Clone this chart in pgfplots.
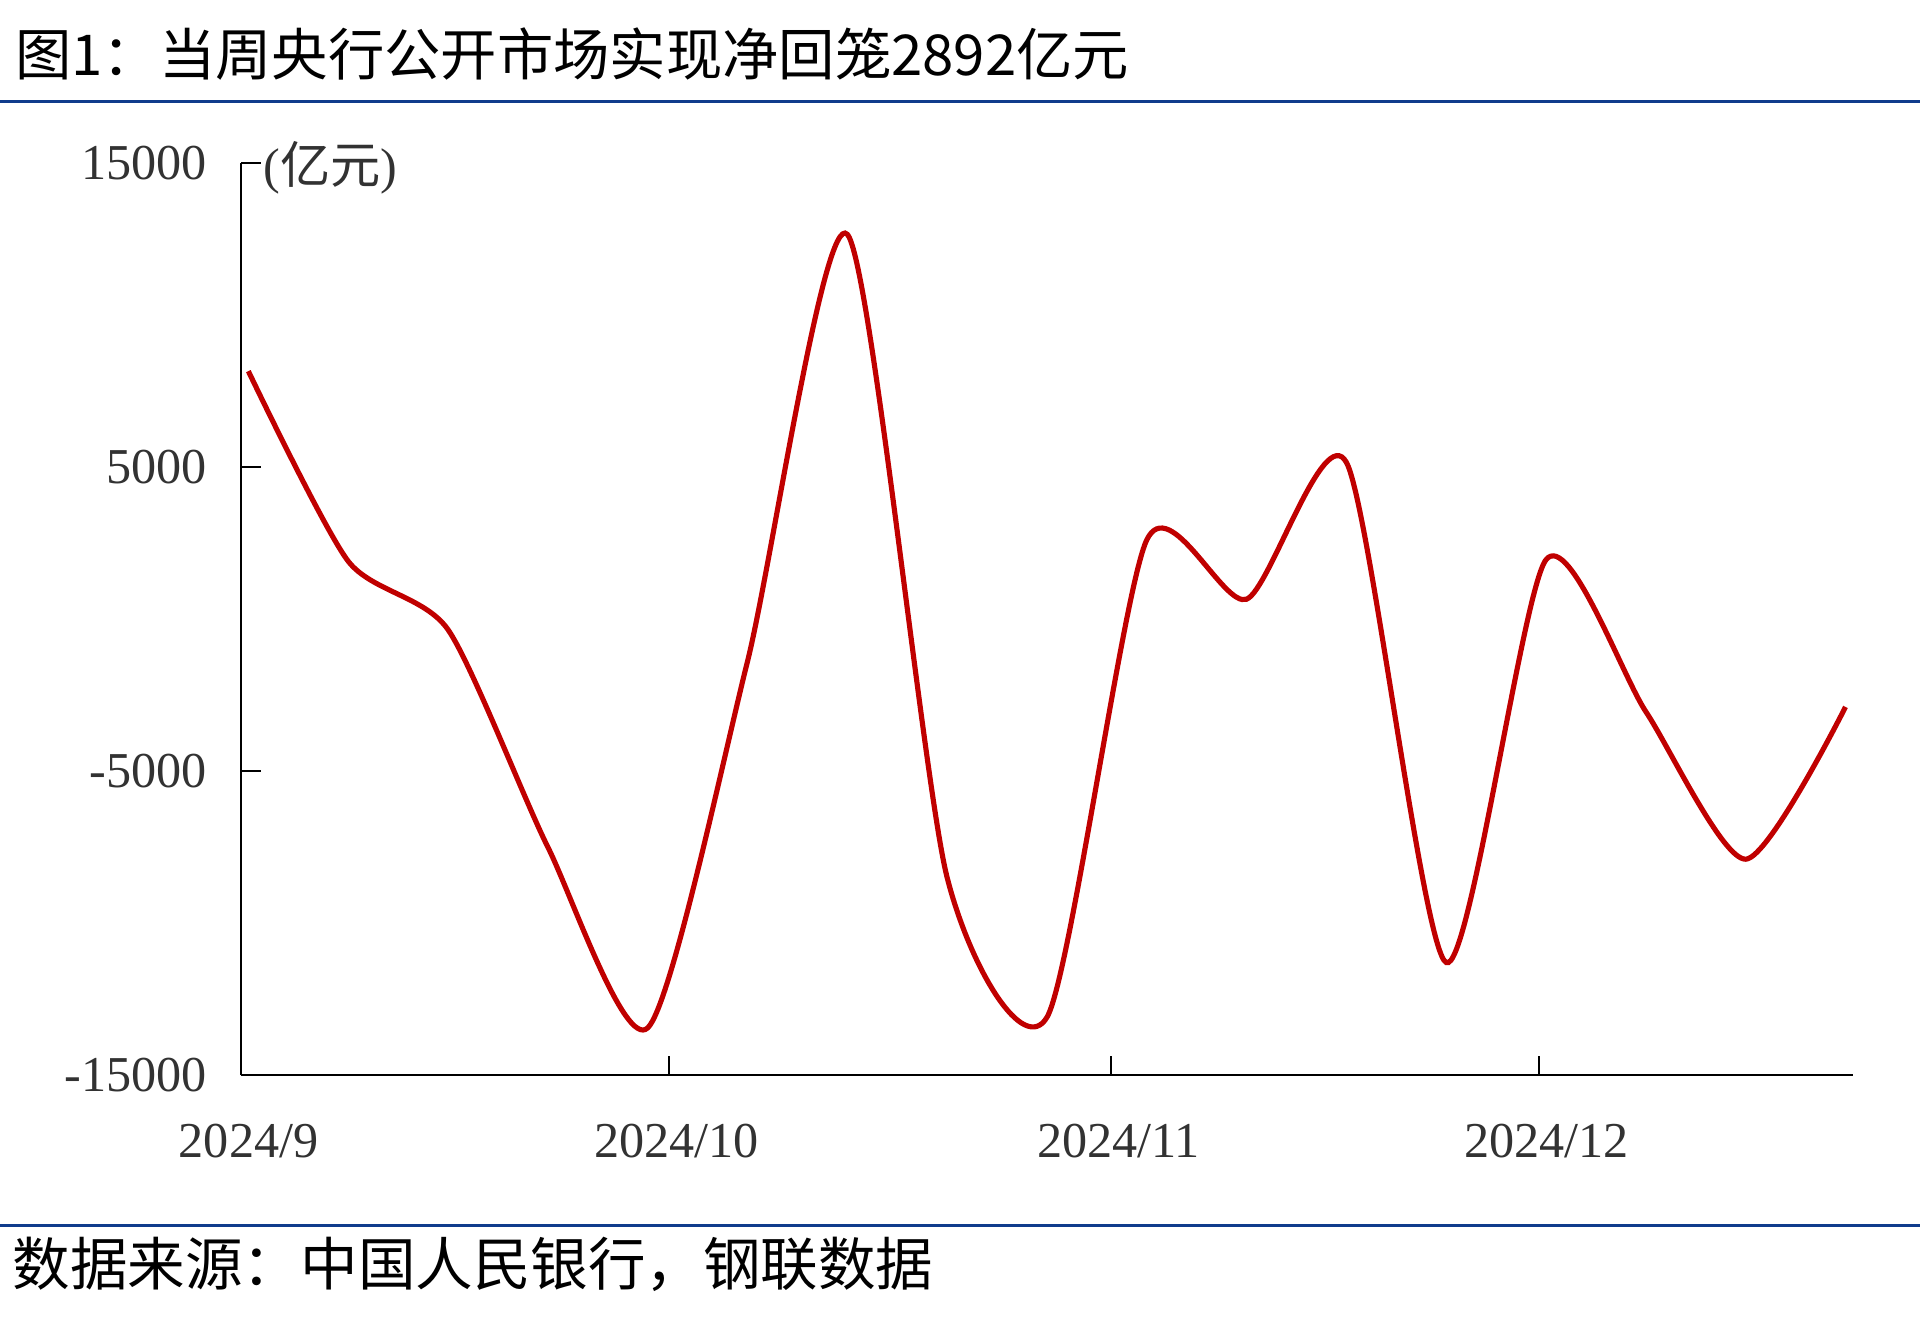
\documentclass[border=0pt]{standalone}
\usepackage{fontspec}
\setmainfont{Liberation Serif}
\newfontfamily\cjk{Noto Sans CJK SC}
\usepackage{pgfplots}
\pgfplotsset{compat=1.18}
\definecolor{lred}{RGB}{192,0,0}
\definecolor{navy}{RGB}{16,60,140}
\definecolor{tgray}{RGB}{50,50,50}
\begin{document}
\begin{tikzpicture}
\path[use as bounding box] (0,0) rectangle (784bp,543.5bp);
\node[anchor=base west, inner sep=0pt, font=\cjk\fontsize{23bp}{26bp}\selectfont] at (6bp,512.5bp) {图1：当周央行公开市场实现净回笼2892亿元};
\draw[navy, line width=1.3bp] (0,502bp) -- (784bp,502bp);
\draw[navy, line width=1.3bp] (0,43bp) -- (784bp,43bp);
\node[anchor=base west, inner sep=0pt, font=\cjk\fontsize{23.5bp}{26bp}\selectfont] at (5bp,18.5bp) {数据来源：中国人民银行，钢联数据};
\begin{axis}[
  at={(98.5bp,104.5bp)}, anchor=south west,
  scale only axis, width=658bp, height=372.5bp,
  xmin=0, xmax=113, ymin=-15000, ymax=15000,
  axis x line=bottom, axis y line=left,
  axis line style={-, black, line width=0.6bp},
  every tick/.style={black, line width=0.6bp},
  tick align=inside, major tick length=8bp,
  scaled y ticks=false,
  xtick={0,30,61,91},
  xticklabels={2024/9,2024/10,2024/11,2024/12},
  ytick={-15000,-5000,5000,15000},
  yticklabels={-15000,-5000,5000,15000},
  ticklabel style={font=\fontsize{20.5bp}{22bp}\selectfont, text=tgray},
  xticklabel style={xshift=3bp},
  xticklabel shift=16.5bp,
  yticklabel shift=10.5bp,
  clip=false,
]
\addplot[lred, line width=2.1bp, smooth, tension=0.42] coordinates {
(0.5,8150) (7.5,1900) (14.5,-350) (21.5,-7500) (28.5,-13450)
(35.5,-1400) (42.5,12650) (49.5,-8500) (56.5,-13100)
(63.5,2600) (70.5,650) (77.5,5150) (84.5,-11300)
(91.5,1950) (98.5,-3050) (105.5,-7900) (112.5,-2892)
};
\node[anchor=west, inner sep=0pt, font=\fontsize{20.5bp}{22bp}\selectfont, text=tgray] at (rel axis cs:0,1) [xshift=9bp, yshift=-2bp] {({\cjk 亿元})};
\end{axis}
\end{tikzpicture}
\end{document}
